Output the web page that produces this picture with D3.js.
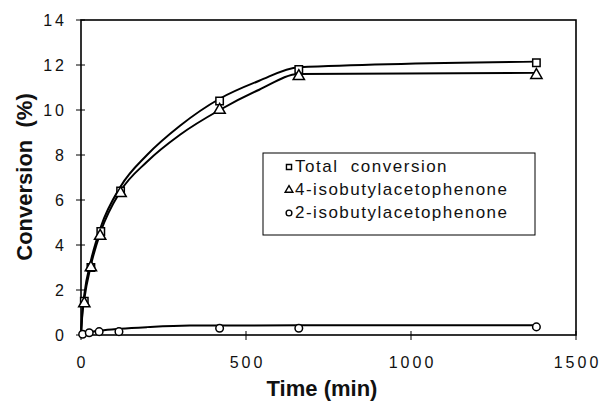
<!DOCTYPE html>
<html>
<head>
<meta charset="utf-8">
<script src="https://cdn.jsdelivr.net/npm/d3@7"></script>
<style>
  body { margin: 0; background: #fff; }
  svg { font-family: "Liberation Sans", Arial, sans-serif; }
  .tick-label { font-size: 16px; letter-spacing: 3px; fill: #111; }
  .title { font-size: 22px; font-weight: bold; fill: #111; }
  .legend { font-size: 17px; fill: #111; letter-spacing: 1.5px; }
</style>
</head>
<body>
<svg width="600" height="403"></svg>
<script>
// measured points (time in min, conversion in %)
var totalTime = [10, 30, 60, 120, 420, 660, 1380];
var totalConv = [1.5, 3.0, 4.6, 6.4, 10.4, 11.8, 12.1];

var para4Time = [10, 30, 58, 120, 420, 660, 1380];
var para4Conv = [1.4, 3.0, 4.4, 6.3, 10.0, 11.5, 11.55];

var ortho2Time = [5, 25, 55, 115, 420, 660, 1380];
var ortho2Conv = [0.03, 0.1, 0.15, 0.15, 0.3, 0.3, 0.36];

// fitted curves
var totalFitTime = [0, 4, 10, 30, 60, 120, 200, 300, 420, 540, 660, 1380];
var totalFitConv = [0, 1.0, 1.8, 3.3, 4.8, 6.6, 8.0, 9.3, 10.5, 11.3, 11.9, 12.15];

var para4FitTime = [0, 4, 10, 30, 60, 120, 200, 300, 420, 540, 660, 1380];
var para4FitConv = [0, 0.9, 1.6, 3.1, 4.6, 6.4, 7.7, 8.9, 10.0, 10.9, 11.6, 11.65];

var ortho2FitTime = [0, 10, 30, 60, 120, 200, 330, 660, 1380];
var ortho2FitConv = [0, 0.06, 0.13, 0.2, 0.28, 0.35, 0.42, 0.43, 0.43];

var xTicks = [0, 500, 1000, 1500];
var yTicks = [0, 2, 4, 6, 8, 10, 12, 14];

var svg = d3.select("svg");

var x = d3.scaleLinear().domain([0, 1500]).range([81, 576]);
var y = d3.scaleLinear().domain([0, 14]).range([335, 20]);

// frame
svg.append("rect")
    .attr("x", x(0)).attr("y", y(14))
    .attr("width", x(1500) - x(0)).attr("height", y(0) - y(14))
    .attr("fill", "none").attr("stroke", "#000").attr("stroke-width", 1.6);

// ticks crossing the axes
svg.selectAll(".xt").data(xTicks).enter().append("line")
    .attr("x1", function(d) { return x(d); }).attr("x2", function(d) { return x(d); })
    .attr("y1", y(0) - 4).attr("y2", y(0) + 5)
    .attr("stroke", "#000").attr("stroke-width", 1);
svg.selectAll(".yt").data(yTicks).enter().append("line")
    .attr("x1", x(0) - 5).attr("x2", x(0) + 4)
    .attr("y1", function(d) { return y(d); }).attr("y2", function(d) { return y(d); })
    .attr("stroke", "#000").attr("stroke-width", 1);

// letter-spacing trails the last glyph, so shift by half of it
svg.selectAll(".xl").data(xTicks).enter().append("text")
    .attr("class", "tick-label")
    .attr("x", function(d) { return x(d) + 1.5; })
    .attr("y", 368)
    .attr("text-anchor", "middle")
    .text(function(d) { return d; });
svg.selectAll(".yl").data(yTicks).enter().append("text")
    .attr("class", "tick-label")
    .attr("x", 67)
    .attr("y", function(d) { return y(d) + 6; })
    .attr("text-anchor", "end")
    .text(function(d) { return d; });

// axis titles
svg.append("text").attr("class", "title")
    .attr("x", 322).attr("y", 396)
    .attr("text-anchor", "middle")
    .text("Time (min)");
svg.append("text").attr("class", "title")
    .attr("transform", "translate(32,177) rotate(-90)")
    .attr("text-anchor", "middle")
    .attr("xml:space", "preserve")
    .text("Conversion  (%)");

// fit lines
var line = d3.line()
    .x(function(d) { return x(d[0]); })
    .y(function(d) { return y(d[1]); })
    .curve(d3.curveMonotoneX);

[[totalFitTime, totalFitConv], [para4FitTime, para4FitConv], [ortho2FitTime, ortho2FitConv]]
    .forEach(function(s) {
        svg.append("path")
            .datum(d3.zip(s[0], s[1]))
            .attr("d", line)
            .attr("fill", "none")
            .attr("stroke", "#000")
            .attr("stroke-width", 2);
    });

// markers
function marker(g, type, size) {
    var sym = type === "square" ? d3.symbolSquare : type === "triangle" ? d3.symbolTriangle : d3.symbolCircle;
    return g.append("path")
        .attr("d", d3.symbol().type(sym).size(size))
        .attr("fill", "#fff")
        .attr("stroke", "#000")
        .attr("stroke-width", 1.5);
}

d3.zip(totalTime, totalConv).forEach(function(d) {
    var g = svg.append("g").attr("transform", "translate(" + x(d[0]) + "," + y(d[1]) + ")");
    marker(g, "square", 55);
});
d3.zip(para4Time, para4Conv).forEach(function(d) {
    var g = svg.append("g").attr("transform", "translate(" + x(d[0]) + "," + y(d[1]) + ")");
    marker(g, "triangle", 55);
});
d3.zip(ortho2Time, ortho2Conv).forEach(function(d) {
    var g = svg.append("g").attr("transform", "translate(" + x(d[0]) + "," + y(d[1]) + ")");
    marker(g, "circle", 45);
});

// legend
var legendNames = ["Total  conversion", "4-isobutylacetophenone", "2-isobutylacetophenone"];
var legendTypes = ["square", "triangle", "circle"];

svg.append("rect")
    .attr("x", 263).attr("y", 153)
    .attr("width", 272).attr("height", 82)
    .attr("fill", "#fff").attr("stroke", "#000").attr("stroke-width", 1);

legendNames.forEach(function(name, i) {
    var yy = 172 + i * 23;
    var g = svg.append("g").attr("transform", "translate(289," + (yy - 5) + ")");
    marker(g, legendTypes[i], 26).attr("stroke-width", 1.4);
    svg.append("text").attr("class", "legend")
        .attr("x", 295).attr("y", yy)
        .attr("xml:space", "preserve")
        .text(name);
});
</script>
</body>
</html>
